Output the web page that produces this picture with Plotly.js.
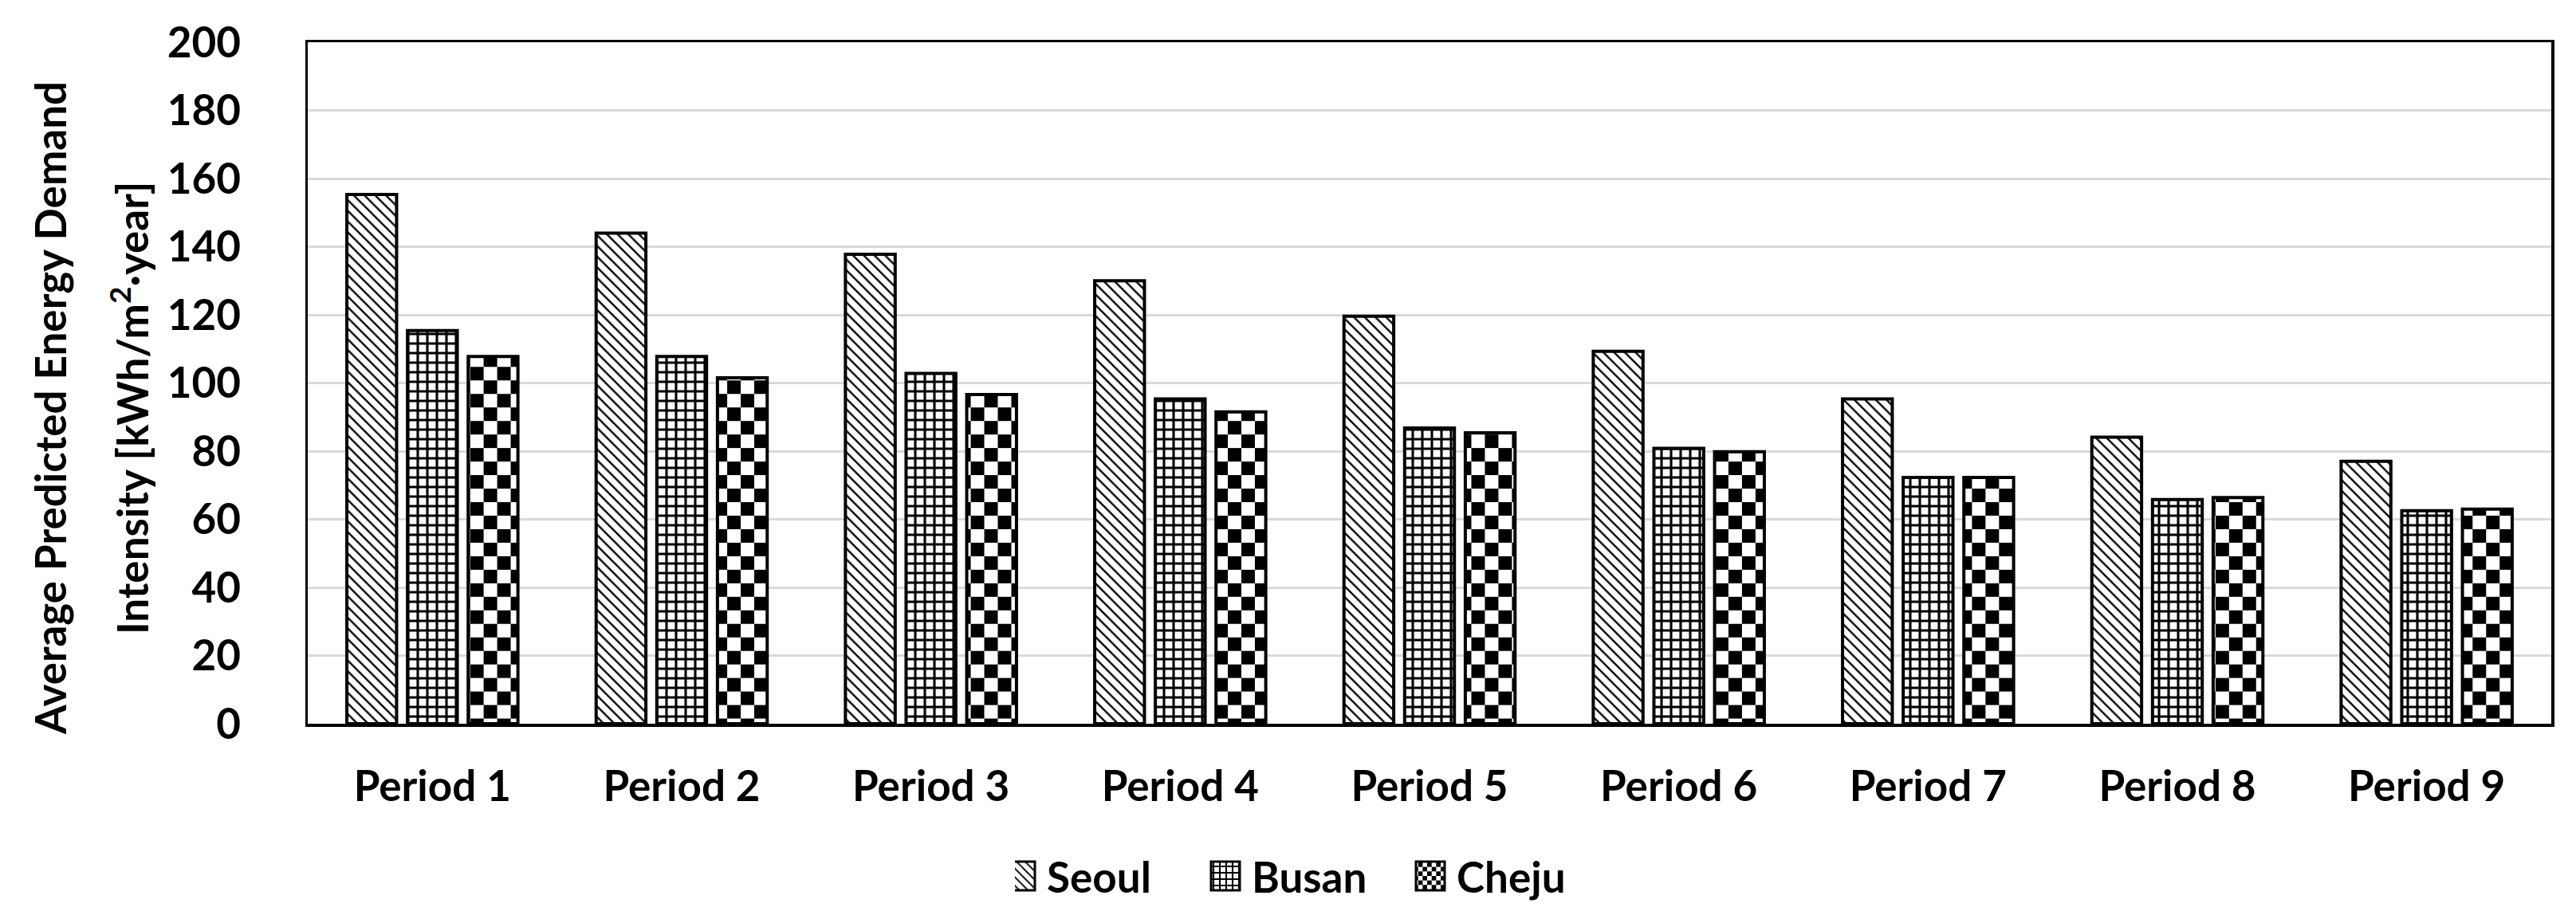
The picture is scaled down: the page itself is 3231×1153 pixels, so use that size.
<!DOCTYPE html>
<html>
<head>
<meta charset="utf-8">
<script src="https://cdn.plot.ly/plotly-3.0.1.min.js"></script>
<style>html,body{margin:0;padding:0;background:#fff;}#chart{width:3231px;height:1153px;}</style>
</head>
<body>
<div id="chart"></div>
<script>
const periods = ["Period 1","Period 2","Period 3","Period 4","Period 5","Period 6","Period 7","Period 8","Period 9"];
const seoul = [155.3, 144.0, 137.8, 130.0, 119.6, 109.3, 95.3, 84.1, 77.0];
const busan = [115.4, 107.8, 102.8, 95.3, 86.8, 80.8, 72.3, 65.8, 62.5];
const cheju = [107.8, 101.5, 96.6, 91.5, 85.4, 79.8, 72.3, 66.4, 63.0];
const yTicks = [0, 20, 40, 60, 80, 100, 120, 140, 160, 180, 200];
const yTitle1 = "Average Predicted Energy Demand";
const yTitle2 = "Intensity [kWh/m<sup>2</sup>·year]";

const FONT = "Lato, 'Open Sans', sans-serif";
const line = {color: "#000", width: 4};

const traces = [
  {type: "bar", name: "Seoul", uid: "seoul", x: periods, y: seoul,
   marker: {color: "#000", line: line,
            pattern: {shape: "\\", size: 9.5, solidity: 0.25, fgcolor: "#000", bgcolor: "#fff", fillmode: "replace"}}},
  {type: "bar", name: "Busan", uid: "busan", x: periods, y: busan,
   marker: {color: "#000", line: line,
            pattern: {shape: "+", size: 12, solidity: 0.45, fgcolor: "#000", bgcolor: "#fff", fillmode: "replace"}}},
  {type: "bar", name: "Cheju", uid: "cheju", x: periods, y: cheju,
   marker: {color: "#000", line: line,
            pattern: {shape: "x", size: 24, solidity: 0.5, fgcolor: "#000", bgcolor: "#fff", fillmode: "replace"}}}
];

const L = 386, R = 3200, T = 53, B = 908;
const pw = R - L, ph = B - T;

const layout = {
  width: 3231, height: 1153,
  margin: {l: L, r: 3231 - R, t: T, b: 1153 - B},
  paper_bgcolor: "#fff", plot_bgcolor: "#fff",
  font: {family: FONT, size: 53, color: "#000", weight: "bold"},
  barmode: "group", bargap: 0.27, bargroupgap: 0.18,
  showlegend: true,
  legend: {orientation: "h", x: (1273 - L) / pw, xanchor: "left", y: -(1099 - B) / ph, yanchor: "middle",
           font: {family: FONT, size: 53, color: "#000", weight: "bold"},
           entrywidth: 212, entrywidthmode: "pixels", bgcolor: "rgba(0,0,0,0)"},
  xaxis: {type: "category", showline: true, linecolor: "#000", linewidth: 3.5, mirror: true,
          showgrid: false, ticks: "", ticklabelstandoff: 30,
          tickfont: {family: FONT, size: 53, color: "#000", weight: "bold"}},
  yaxis: {range: [0, 200], tickvals: yTicks, showline: true, linecolor: "#000", linewidth: 3.5, mirror: true,
          showgrid: true, gridcolor: "#d9d9d9", gridwidth: 3, zeroline: false, ticks: "",
          ticklabelstandoff: 70,
          tickfont: {family: FONT, size: 53, color: "#000", weight: "bold"}},
  annotations: [
    {xref: "paper", yref: "paper", x: (62 - L) / pw, y: (B - 512) / ph, xanchor: "center", yanchor: "middle",
     text: yTitle1, textangle: -90, showarrow: false, font: {family: FONT, size: 53, color: "#000", weight: "bold"}},
    {xref: "paper", yref: "paper", x: (162 - L) / pw, y: (B - 512) / ph, xanchor: "center", yanchor: "middle",
     text: yTitle2, textangle: -90, showarrow: false, font: {family: FONT, size: 53, color: "#000", weight: "bold"}}
  ]
};

function checker(gd) {
  const NS = "http://www.w3.org/2000/svg";
  gd.querySelectorAll("pattern").forEach(p => {
    if (p.id.indexOf("cheju") === -1) return;
    const w = parseFloat(p.getAttribute("width"));
    const h = parseFloat(p.getAttribute("height"));
    while (p.firstChild) p.removeChild(p.firstChild);
    const mk = (x, y, ww, hh, c) => {
      const r = document.createElementNS(NS, "rect");
      r.setAttribute("x", x); r.setAttribute("y", y);
      r.setAttribute("width", ww); r.setAttribute("height", hh);
      r.setAttribute("fill", c);
      p.appendChild(r);
    };
    mk(0, 0, w, h, "#fff");
    mk(0, 0, w / 2, h / 2, "#000");
    mk(w / 2, h / 2, w / 2, h / 2, "#000");
  });
  gd.querySelectorAll(".legend .legendpoints path").forEach(p => {
    p.setAttribute("d", "M5,18H-31V-18H5Z");
    p.style.strokeWidth = "3px";
  });
}

Plotly.newPlot("chart", traces, layout, {staticPlot: true}).then(gd => checker(gd));
</script>
</body>
</html>
